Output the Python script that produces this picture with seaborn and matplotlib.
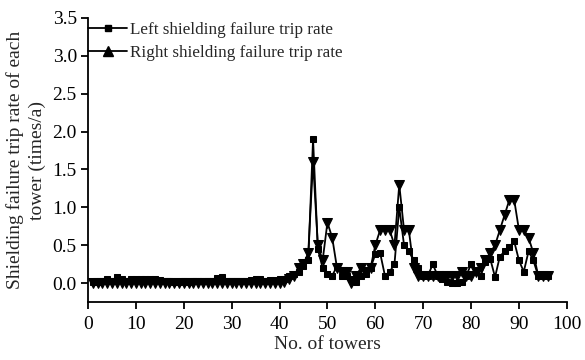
import numpy as np
import pandas as pd
import matplotlib
matplotlib.use("Agg")
import matplotlib.pyplot as plt
import seaborn as sns
from matplotlib.lines import Line2D

towers = list(range(1, 97))
left_rate = [0.02, 0.02, 0.03, 0.05, 0.03, 0.08, 0.05, 0.03, 0.05, 0.05,
             0.06, 0.06, 0.05, 0.06, 0.04, 0.03, 0.03, 0.02, 0.02, 0.03,
             0.02, 0.03, 0.03, 0.03, 0.03, 0.03, 0.07, 0.08, 0.03, 0.03,
             0.03, 0.03, 0.03, 0.04, 0.05, 0.05, 0.03, 0.04, 0.04, 0.05,
             0.05, 0.10, 0.12, 0.15, 0.22, 0.30, 1.90, 0.45, 0.20, 0.12,
             0.10, 0.22, 0.10, 0.10, 0.05, 0.02, 0.10, 0.12, 0.20, 0.38,
             0.40, 0.10, 0.15, 0.25, 1.00, 0.50, 0.42, 0.30, 0.20, 0.10,
             0.10, 0.25, 0.10, 0.05, 0.02, 0.00, 0.00, 0.02, 0.10, 0.25,
             0.15, 0.10, 0.28, 0.32, 0.08, 0.35, 0.42, 0.48, 0.55, 0.30,
             0.15, 0.42, 0.30, 0.10, 0.10, 0.10]
right_rate = [0.00, 0.00, 0.00, 0.00, 0.00, 0.00, 0.00, 0.00, 0.00, 0.00,
              0.00, 0.00, 0.00, 0.00, 0.00, 0.00, 0.00, 0.00, 0.00, 0.00,
              0.00, 0.00, 0.00, 0.00, 0.00, 0.00, 0.00, 0.00, 0.00, 0.00,
              0.00, 0.00, 0.00, 0.00, 0.00, 0.00, 0.00, 0.00, 0.00, 0.00,
              0.02, 0.05, 0.10, 0.20, 0.25, 0.40, 1.60, 0.50, 0.30, 0.80,
              0.60, 0.20, 0.15, 0.15, 0.00, 0.10, 0.20, 0.15, 0.20, 0.50,
              0.70, 0.70, 0.70, 0.50, 1.30, 0.70, 0.70, 0.20, 0.10, 0.10,
              0.10, 0.10, 0.10, 0.10, 0.10, 0.10, 0.10, 0.15, 0.10, 0.10,
              0.15, 0.20, 0.30, 0.40, 0.50, 0.70, 0.90, 1.10, 1.10, 0.70,
              0.70, 0.60, 0.40, 0.10, 0.10, 0.10]
x_ticks = [0, 10, 20, 30, 40, 50, 60, 70, 80, 90, 100]
y_ticks = [0.0, 0.5, 1.0, 1.5, 2.0, 2.5, 3.0, 3.5]
legend_labels = ["Left shielding failure trip rate", "Right shielding failure trip rate"]

sns.set_theme(style="ticks")
plt.rcParams['font.family'] = ['Liberation Serif', 'DejaVu Serif']

fig = plt.figure(figsize=(5.85, 3.6), dpi=100)
ax = fig.add_axes([0.1504, 0.161, 0.8186, 0.789])

sns.lineplot(x=towers, y=right_rate, ax=ax, color='black', linewidth=1.3,
             marker='v', markersize=7, markeredgecolor='black', markerfacecolor='black')
sns.lineplot(x=towers, y=left_rate, ax=ax, color='black', linewidth=1.3,
             marker='s', markersize=4.5, markeredgecolor='black', markerfacecolor='black')

ax.set_xlim(0, 100)
ax.set_ylim(-0.25, 3.5)
ax.set_xticks(x_ticks)
ax.set_yticks(y_ticks)
ax.set_yticklabels([f"{v:.1f}" for v in y_ticks])
ax.tick_params(axis='both', labelsize=14, direction='out', length=5, width=1.3, colors='black')
ax.tick_params(axis='x', pad=5)
ax.tick_params(axis='y', pad=3)
for s in ['top', 'right']:
    ax.spines[s].set_visible(False)
for s in ['left', 'bottom']:
    ax.spines[s].set_linewidth(1.3)
    ax.spines[s].set_color('black')

ax.set_xlabel("No. of towers", fontsize=14, labelpad=2)
ax.set_ylabel("Shielding failure trip rate of each\ntower (times/a)", fontsize=14, labelpad=5,
              linespacing=1.35)

handles = [Line2D([], [], color='black', linewidth=1.3, marker='s', markersize=5),
           Line2D([], [], color='black', linewidth=1.3, marker='^', markersize=7)]
ax.legend(handles, legend_labels, loc='upper left', bbox_to_anchor=(0.0, 0.985),
          frameon=False, fontsize=12.3, handlelength=2.3, handletextpad=0.15,
          borderaxespad=0, borderpad=0, labelspacing=0.4)

fig.savefig("out.png", dpi=100)
